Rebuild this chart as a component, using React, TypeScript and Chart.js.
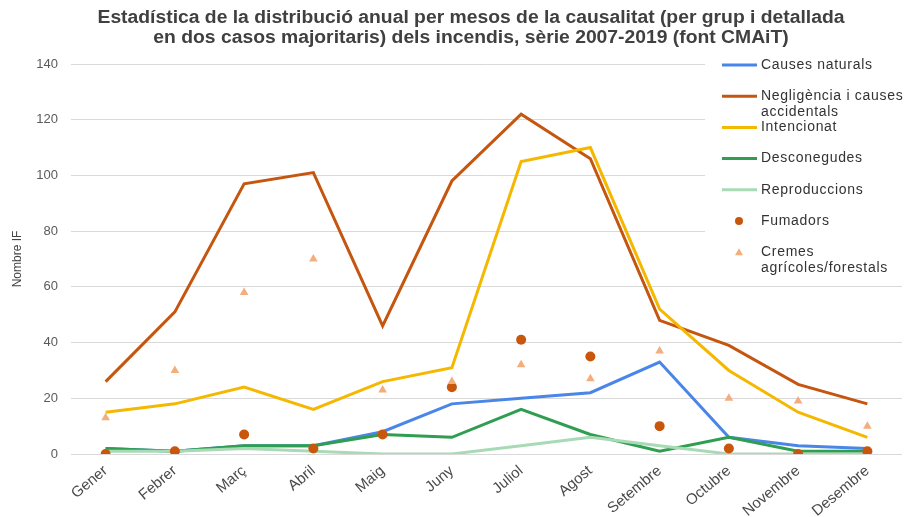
import React, { useEffect, useRef } from 'react';
import { Chart, registerables } from 'chart.js';

Chart.register(...registerables);

const months = ['Gener', 'Febrer', 'Març', 'Abril', 'Maig', 'Juny', 'Juliol', 'Agost', 'Setembre', 'Octubre', 'Novembre', 'Desembre'];
const causesNaturals = [2, 1, 3, 3, 8, 18, 20, 22, 33, 6, 3, 2];
const negligencia = [26, 51, 97, 101, 46, 98, 122, 106, 48, 39, 25, 18];
const intencionat = [15, 18, 24, 16, 26, 31, 105, 110, 52, 30, 15, 6];
const desconegudes = [2, 1, 3, 3, 7, 6, 16, 7, 1, 6, 1, 1];
const reproduccions = [1, 1, 2, 1, 0, 0, 3, 6, 3, 0, 0, 0];
const fumadors = [0, 1, 7, 2, 7, 24, 41, 35, 10, 2, 0, 1];
const cremes = [13, 30, 58, 70, 23, 26, 32, 27, 37, 20, 19, 10];

const yMin = 0;
const yMax = 140;
const yStep = 20;

const titleLines = [
  'Estadística de la distribució anual per mesos de la causalitat (per grup i detallada',
  'en dos casos majoritaris) dels incendis, sèrie 2007-2019 (font CMAiT)',
];
const yTitle = 'Nombre IF';

const seriesNames = [
  ['Causes naturals'],
  ['Negligència i causes', 'accidentals'],
  ['Intencionat'],
  ['Desconegudes'],
  ['Reproduccions'],
  ['Fumadors'],
  ['Cremes', 'agrícoles/forestals'],
];

const C_BLUE = '#4a86e8';
const C_BROWN = '#c5560f';
const C_YELLOW = '#f5b800';
const C_GREEN = '#2f9e50';
const C_LIGHTGREEN = '#a8dab5';
const C_DOT = '#c8560c';
const C_TRI = '#f4ad7d';

const FONT = "'Liberation Sans', Arial, sans-serif";

export default function App() {
  const ref = useRef<HTMLCanvasElement>(null);

  useEffect(() => {
    const canvas = ref.current!;
    const legendKinds = [
      { kind: 'line', color: C_BLUE },
      { kind: 'line', color: C_BROWN },
      { kind: 'line', color: C_YELLOW },
      { kind: 'line', color: C_GREEN },
      { kind: 'line', color: C_LIGHTGREEN },
      { kind: 'dot', color: C_DOT },
      { kind: 'tri', color: C_TRI },
    ];

    const overlay = {
      id: 'overlay',
      afterDraw(chart: any) {
        const ctx = chart.ctx as CanvasRenderingContext2D;
        // title
        ctx.save();
        ctx.fillStyle = '#404040';
        ctx.font = `bold 18px ${FONT}`;
        ctx.textAlign = 'center';
        ctx.textBaseline = 'middle';
        const w1 = ctx.measureText(titleLines[0]).width;
        const sx = 747 / w1;
        titleLines.forEach((t, i) => {
          ctx.save();
          ctx.translate(471, 18 + i * 20);
          ctx.scale(sx, 1);
          ctx.fillText(t, 0, 0);
          ctx.restore();
        });
        ctx.restore();

        // legend
        ctx.save();
        ctx.fillStyle = '#ffffff';
        ctx.fillRect(705, 48, 202, 234);
        (ctx as any).letterSpacing = '0.7px';
        ctx.font = `14px ${FONT}`;
        ctx.textAlign = 'left';
        ctx.textBaseline = 'middle';
        legendKinds.forEach((it, i) => {
          const y = 65 + i * 31.2;
          if (it.kind === 'line') {
            ctx.strokeStyle = it.color;
            ctx.lineWidth = 3;
            ctx.beginPath();
            ctx.moveTo(722, y);
            ctx.lineTo(757, y);
            ctx.stroke();
          } else if (it.kind === 'dot') {
            ctx.fillStyle = it.color;
            ctx.beginPath();
            ctx.arc(739, y, 4, 0, Math.PI * 2);
            ctx.fill();
          } else {
            ctx.fillStyle = it.color;
            ctx.beginPath();
            ctx.moveTo(739, y - 4);
            ctx.lineTo(743, y + 3);
            ctx.lineTo(735, y + 3);
            ctx.closePath();
            ctx.fill();
          }
          ctx.fillStyle = '#333333';
          seriesNames[i].forEach((t, j) => ctx.fillText(t, 761, y + j * 16));
        });
        ctx.restore();
      },
    };

    const lineDs = (label: string, data: number[], color: string, order: number) => ({
      label,
      data,
      borderColor: color,
      backgroundColor: color,
      borderWidth: 3,
      pointRadius: 0,
      tension: 0,
      fill: false,
      order,
    });

    const chart = new Chart(canvas, {
      type: 'line',
      data: {
        labels: months,
        datasets: [
          lineDs(seriesNames[0].join(' '), causesNaturals, C_BLUE, 7),
          lineDs(seriesNames[1].join(' '), negligencia, C_BROWN, 6),
          lineDs(seriesNames[2].join(' '), intencionat, C_YELLOW, 5),
          lineDs(seriesNames[3].join(' '), desconegudes, C_GREEN, 4),
          lineDs(seriesNames[4].join(' '), reproduccions, C_LIGHTGREEN, 3),
          {
            label: seriesNames[5].join(' '),
            data: fumadors,
            showLine: false,
            pointStyle: 'circle',
            pointRadius: 5,
            backgroundColor: C_DOT,
            borderColor: C_DOT,
            borderWidth: 0,
            order: 2,
          },
          {
            label: seriesNames[6].join(' '),
            data: cremes,
            showLine: false,
            pointStyle: 'triangle',
            pointRadius: 5,
            backgroundColor: C_TRI,
            borderColor: C_TRI,
            borderWidth: 0,
            order: 1,
          },
        ] as any,
      },
      options: {
        responsive: false,
        animation: false,
        devicePixelRatio: 1,
        layout: { padding: { top: 64, right: 2, left: 0, bottom: 0 } },
        plugins: {
          legend: { display: false },
          title: { display: false },
          tooltip: { enabled: false },
        },
        scales: {
          x: {
            offset: true,
            grid: { display: false, drawTicks: false },
            border: { display: false },
            ticks: {
              color: '#4a4a4a',
              font: { size: 15, family: FONT },
              maxRotation: 40,
              minRotation: 40,
              autoSkip: false,
              padding: 8,
            },
            afterFit(scale: any) {
              scale.height = 63;
            },
          },
          y: {
            min: yMin,
            max: yMax,
            ticks: {
              stepSize: yStep,
              color: '#5a5a5a',
              font: { size: 13, family: FONT },
              padding: 13,
            },
            grid: { color: '#d9d9d9', lineWidth: 1, drawTicks: false },
            border: { display: false },
            title: {
              display: true,
              text: yTitle,
              color: '#444444',
              font: { size: 12, family: FONT },
              padding: { top: 10, bottom: 0 },
            },
            afterFit(scale: any) {
              scale.width = 71;
            },
          },
        },
      },
      plugins: [overlay],
    });
    return () => chart.destroy();
  }, []);

  return (
    <div style={{ position: 'absolute', left: 0, top: 0, width: 907, height: 517, background: '#fff' }}>
      <canvas ref={ref} width={907} height={517} style={{ display: 'block' }} />
    </div>
  );
}
